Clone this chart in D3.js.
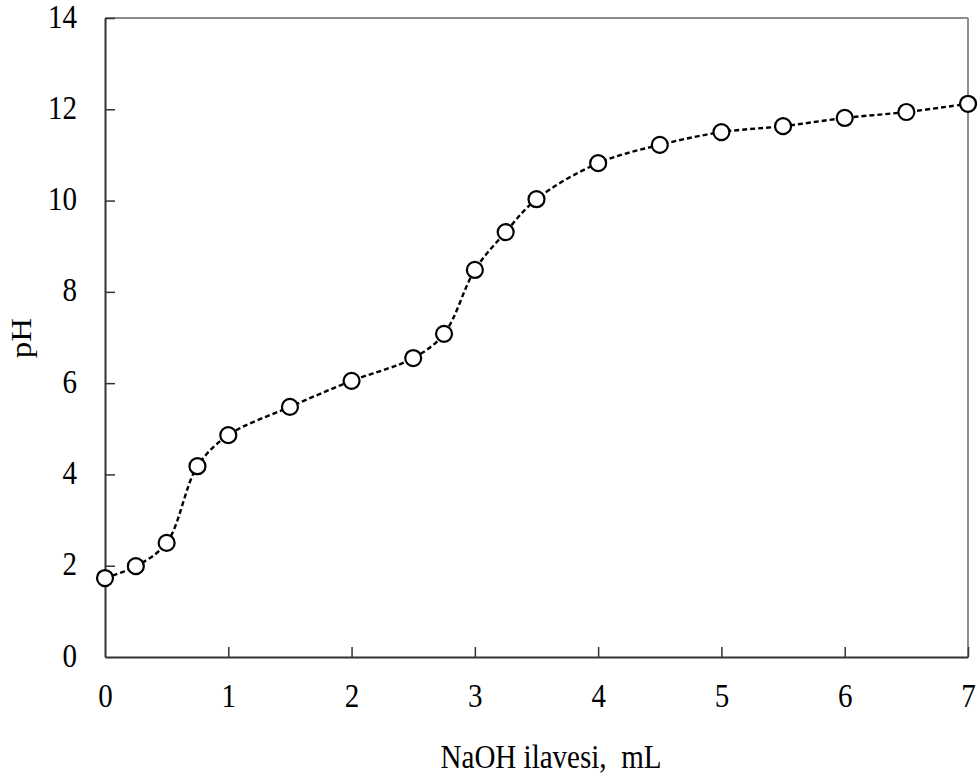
<!DOCTYPE html>
<html>
<head>
<meta charset="utf-8">
<script src="https://cdn.jsdelivr.net/npm/d3@7"></script>
<style>
  html, body { margin: 0; padding: 0; background: #fff; }
  svg text { font-family: "Liberation Serif", "Times New Roman", serif; fill: #000; white-space: pre; }
</style>
</head>
<body>
<svg id="chart" width="977" height="780"></svg>
<script>
// Titration curve: pH vs. added NaOH volume
const volumes = [0, 0.25, 0.5, 0.75, 1, 1.5, 2, 2.5, 2.75, 3, 3.25, 3.5, 4, 4.5, 5, 5.5, 6, 6.5, 7];
const phValues = [1.73, 1.99, 2.50, 4.18, 4.86, 5.48, 6.05, 6.55, 7.08, 8.48, 9.31, 10.03, 10.82, 11.22, 11.50, 11.63, 11.81, 11.94, 12.12];
const xTicks = [0, 1, 2, 3, 4, 5, 6, 7];
const yTicks = [0, 2, 4, 6, 8, 10, 12, 14];
const xTitle = "NaOH ilavesi,  mL";
const yTitle = "pH";

const svg = d3.select("#chart");
const plotLeft = 105, plotRight = 968, plotTop = 18, plotBottom = 657;
const fontSize = 33;
const squeeze = "scale(0.88,1)"; // narrow serif lettering

const x = d3.scaleLinear().domain([0, 7]).range([plotLeft, plotRight]);
const y = d3.scaleLinear().domain([0, 14]).range([plotBottom, plotTop]);

// Top and right frame lines (grey)
svg.append("line").attr("x1", plotLeft).attr("x2", plotRight).attr("y1", plotTop).attr("y2", plotTop)
  .attr("stroke", "#8c8c8c").attr("stroke-width", 2);
svg.append("line").attr("x1", plotRight).attr("x2", plotRight).attr("y1", plotTop).attr("y2", plotBottom)
  .attr("stroke", "#8c8c8c").attr("stroke-width", 2);

// Axes with inward ticks
const xAxis = svg.append("g").attr("transform", `translate(0,${plotBottom})`)
  .call(d3.axisBottom(x).tickValues(xTicks).tickSize(-10).tickSizeOuter(0).tickFormat(d3.format("d")));
const yAxis = svg.append("g").attr("transform", `translate(${plotLeft},0)`)
  .call(d3.axisLeft(y).tickValues(yTicks).tickSize(-10).tickSizeOuter(0).tickFormat(d3.format("d")));

[xAxis, yAxis].forEach(g => {
  g.attr("font-size", null).attr("font-family", null);
  g.select(".domain").attr("stroke", "#333").attr("stroke-width", 2);
  g.selectAll(".tick line").attr("stroke", "#333").attr("stroke-width", 1.5);
  g.selectAll(".tick text").style("font-size", fontSize + "px").attr("fill", "#000")
    .attr("x", null).attr("y", null).attr("dy", null);
});
xAxis.selectAll(".tick text").attr("transform", `translate(0,50) ${squeeze}`);
yAxis.selectAll(".tick text").attr("transform", `translate(-28,9) ${squeeze}`);

// ticks at the origin coincide with the other axis
xAxis.selectAll(".tick").filter(d => d === 0).select("line").remove();
yAxis.selectAll(".tick").filter(d => d === 0).select("line").remove();

// Axis titles
svg.append("text").attr("transform", `translate(551,768) ${squeeze}`)
  .attr("text-anchor", "middle").style("font-size", fontSize + "px").text(xTitle);
svg.append("text").attr("transform", `translate(31,338) ${squeeze} rotate(-90)`)
  .attr("text-anchor", "middle").style("font-size", fontSize + "px").text(yTitle);

// Data
const data = volumes.map((v, i) => ({ v, ph: phValues[i] }));

const line = d3.line().x(d => x(d.v)).y(d => y(d.ph)).curve(d3.curveCatmullRom.alpha(0.5));
svg.append("path").datum(data).attr("d", line)
  .attr("fill", "none").attr("stroke", "#000").attr("stroke-width", 2.4)
  .attr("stroke-dasharray", "5,3");

svg.selectAll("circle.pt").data(data).enter().append("circle")
  .attr("class", "pt")
  .attr("cx", d => x(d.v)).attr("cy", d => y(d.ph)).attr("r", 8)
  .attr("fill", "#fff").attr("stroke", "#000").attr("stroke-width", 2.2);
</script>
</body>
</html>
